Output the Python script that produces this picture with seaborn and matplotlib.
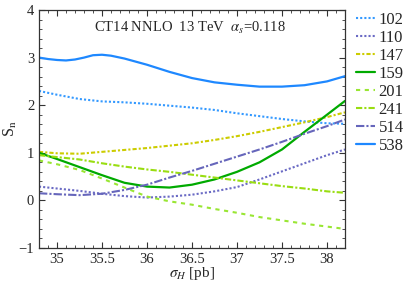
import matplotlib
matplotlib.use('Agg')
import matplotlib.pyplot as plt
from matplotlib.ticker import MultipleLocator
import seaborn as sns
import pandas as pd

# Valeurs (S_n en fonction de sigma_H)
sigma_h = [34.8, 35.0, 35.25, 35.5, 35.75, 36.0, 36.25, 36.5, 36.75,
           37.0, 37.25, 37.5, 37.75, 38.0, 38.2]

s_102 = [2.30, 2.22, 2.13, 2.08, 2.06, 2.03, 1.99, 1.95, 1.90,
         1.83, 1.77, 1.71, 1.66, 1.62, 1.61]
s_110 = [0.29, 0.25, 0.20, 0.14, 0.09, 0.06, 0.08, 0.12, 0.19,
         0.28, 0.44, 0.61, 0.78, 0.95, 1.07]
s_147 = [1.02, 0.99, 0.98, 1.02, 1.06, 1.10, 1.15, 1.20, 1.27,
         1.35, 1.44, 1.54, 1.64, 1.75, 1.85]
s_159 = [1.00, 0.87, 0.70, 0.53, 0.37, 0.29, 0.27, 0.33, 0.44,
         0.60, 0.80, 1.07, 1.44, 1.80, 2.09]
s_201 = [0.84, 0.76, 0.64, 0.46, 0.27, 0.08, -0.02, -0.09, -0.18,
         -0.26, -0.35, -0.42, -0.49, -0.55, -0.60]
s_241 = [0.95, 0.91, 0.86, 0.78, 0.71, 0.65, 0.60, 0.54, 0.48,
         0.42, 0.36, 0.30, 0.25, 0.19, 0.16]
s_514 = [0.15, 0.13, 0.11, 0.14, 0.22, 0.33, 0.48, 0.62, 0.77,
         0.92, 1.07, 1.23, 1.40, 1.56, 1.70]

# la courbe 538 ondule au début : relevé plus fin
sigma_h_538 = [34.8, 34.9, 35.0, 35.1, 35.2, 35.3, 35.4, 35.5, 35.6,
               35.75, 36.0, 36.25, 36.5, 36.75, 37.0, 37.25, 37.5,
               37.75, 38.0, 38.2]
s_538 = [3.00, 2.97, 2.95, 2.94, 2.96, 3.00, 3.05, 3.06, 3.04,
         2.98, 2.85, 2.70, 2.57, 2.48, 2.43, 2.39, 2.39,
         2.42, 2.50, 2.61]

series_names = ['102', '110', '147', '159', '201', '241', '514', '538']
series_x = [sigma_h] * 7 + [sigma_h_538]
series_values = [s_102, s_110, s_147, s_159, s_201, s_241, s_514, s_538]

# styles : couleur, motif de tirets, épaisseur
styles = {
    '102': ('#3399ff', (0, (1, 1)), 1.5),
    '110': ('#6a6ac4', (0, (1, 1)), 1.5),
    '147': ('#cccc00', (0, (2, 1, 1, 1)), 1.5),
    '159': ('#00aa00', '-', 1.6),
    '201': ('#99e633', (0, (2, 2.2)), 1.5),
    '241': ('#99dd11', (0, (3, 1, 1, 1)), 1.5),
    '514': ('#6666bb', (0, (4, 1, 1, 1)), 1.5),
    '538': ('#1e88ff', '-', 1.6),
}

sns.set_style('ticks')
plt.rcParams['font.family'] = ['Liberation Serif', 'DejaVu Serif']
plt.rcParams['mathtext.fontset'] = 'stix'

fig = plt.figure(figsize=(4.07, 2.85), dpi=100)
ax = fig.add_axes([39 / 407, 37 / 285, 306 / 407, 238 / 285])

for name, xs, vals in zip(series_names, series_x, series_values):
    color, ls, lw = styles[name]
    df = pd.DataFrame({'x': xs, 'y': vals})
    sns.lineplot(data=df, x='x', y='y', ax=ax, color=color,
                 linestyle=ls, linewidth=lw, label=name)

ax.set_xlim(34.8, 38.2)
ax.set_ylim(-1, 4)
ax.xaxis.set_minor_locator(MultipleLocator(0.1))
ax.yaxis.set_major_locator(MultipleLocator(1))
ax.yaxis.set_minor_locator(MultipleLocator(0.2))
ax.set_xticks([35, 35.5, 36, 36.5, 37, 37.5, 38])
ax.set_xticklabels(['35', '35.5', '36', '36.5', '37', '37.5', '38'])
ax.tick_params(which='both', direction='in', top=True, right=True,
               labelsize=10.5, color='#333333')
ax.tick_params(which='major', length=4, width=0.8)
ax.tick_params(which='minor', length=2.5, width=0.6)
for sp in ax.spines.values():
    sp.set_color('#333333')
    sp.set_linewidth(0.9)

ax.set_xlabel(r'$\sigma_H$ [pb]', fontsize=11)
ax.xaxis.set_label_coords(0.5, -17 / 238)
ax.xaxis.label.set_va('top')
ax.set_ylabel(r'S$_{\rm n}$', fontsize=11.5)
ax.yaxis.set_label_coords(-29 / 306, 0.5)
ax.yaxis.label.set_va('center')

ax.text(36.48, 3.62, r'CT14 NNLO  13 TeV  $\alpha_s$=0.118',
        ha='center', va='center', fontsize=10.5)

handles, labels = ax.get_legend_handles_labels()
ax.legend_.remove()
fig.legend(handles, labels, loc='upper left',
           bbox_to_anchor=(356 / 407, 1 - 12 / 285), frameon=False,
           fontsize=12, handlelength=1.15, handletextpad=0.2,
           labelspacing=0.12, borderpad=0, borderaxespad=0)

fig.savefig('out.png', dpi=100)
plt.close(fig)
